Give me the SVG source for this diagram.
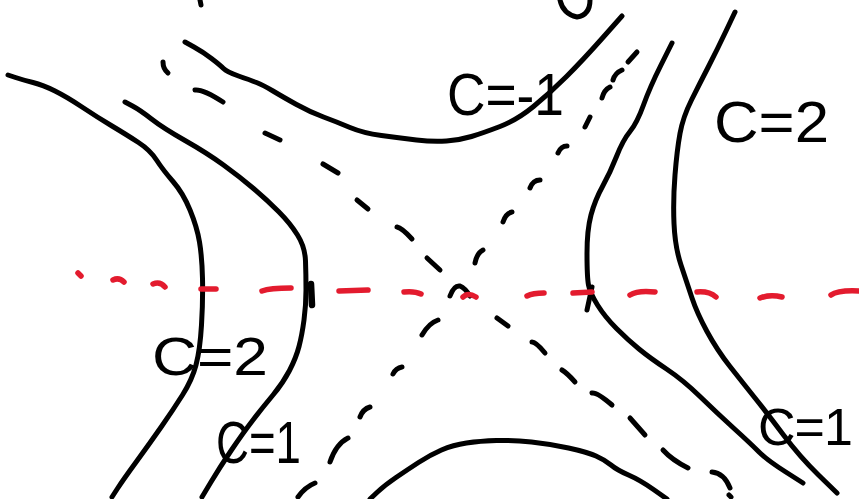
<svg xmlns="http://www.w3.org/2000/svg" width="859" height="499" viewBox="0 0 859 499">
<style>
.c{fill:none;stroke:#000;stroke-width:5;stroke-linecap:round;stroke-linejoin:round}
.d{fill:none;stroke:#000;stroke-width:5;stroke-linecap:round;stroke-linejoin:round}
.r{fill:none;stroke:#e31b2e;stroke-width:5.5;stroke-linecap:round;stroke-linejoin:round}
.t{font-family:"Liberation Sans","DejaVu Sans",sans-serif;fill:#000}
</style>
<rect width="859" height="499" fill="#fff"/>
<g id="curves">
<path class="c" d="M8,75 L15.5,77.5 Q23,80 33,82.5 Q43,85 55,91 Q67,97 82,107 Q97,117 112,126 Q127,135 138.5,142.5 Q150,150 156.5,160 Q163,170 173,181.5 Q183,193 190,210 Q197,227 199.5,242 Q202,257 202.5,278.5 Q203,300 201.5,325 Q200,350 196,365 Q192,380 182.5,395 Q173,410 161.5,426.5 Q150,443 136.5,461.5 Q123,480 117.5,488.5 L112,497"/>
<path class="c" d="M125,102 L132.5,106 Q140,110 151.5,119 Q163,128 185,140.5 Q207,153 223.5,165 Q240,177 253.5,188.5 Q267,200 278.5,211.5 Q290,223 297.5,235 Q305,247 305.5,261 Q306,275 306,290 Q306,305 304,320 Q302,335 299,346.5 Q296,358 289.5,370.5 Q283,383 273,395 Q263,407 253,420 Q243,433 231.5,450 Q220,467 211,482 L202,497"/>
<path class="c" d="M185,42 L194,47 Q203,52 211.5,58.5 Q220,65 223.5,68.5 Q227,72 238.5,76 Q250,80 256.5,82.5 Q263,85 273,91 Q283,97 296.5,104.5 Q310,112 323.5,117 Q337,122 350,127.5 Q363,133 381.5,135.5 Q400,138 416.5,140 Q433,142 446.5,141 Q460,140 471.5,136.5 Q483,133 500,126.5 Q517,120 533.5,106.5 Q550,93 566.5,76.5 Q583,60 602.5,38 L622,16"/>
<path class="c" d="M370,499 L377.5,492 Q385,485 396,477.5 Q407,470 418.5,462.5 Q430,455 441.5,450 Q453,445 466.5,443 Q480,441 496.5,440.5 Q513,440 531.5,442 Q550,444 568.5,448 Q587,452 596,456 Q605,460 611,465 Q617,470 628.5,475 Q640,480 653.5,489.5 L667,499"/>
<path class="c" d="M672,43 L661,65 Q650,87 643.5,105 Q637,123 630,131.5 Q623,140 616.5,156.5 Q610,173 602.5,186.5 Q595,200 591,215 Q587,230 587,253.5 Q587,277 588.5,285 Q590,293 597.5,305 Q605,317 616.5,328.5 Q628,340 639,349 Q650,358 666.5,369 Q683,380 700,396.5 Q717,413 733.5,428 Q750,443 758.5,451.5 Q767,460 785,471.5 L803,483"/>
<path class="c" d="M735,12 L726,31 Q717,50 708.5,66.5 Q700,83 691.5,100 Q683,117 680,133.5 Q677,150 675,175 Q673,200 674,223.5 Q675,247 681,265 Q687,283 692,298 Q697,313 707,331.5 Q717,350 730,366.5 Q743,383 755,398 Q767,413 783.5,435 Q800,457 818.5,475 L837,493"/>
<path class="c" d="M560,0 Q563,14 577,17 Q590,15 590,0"/>
<path class="c" d="M200,0 L201,5"/>
<path class="c" style="stroke-width:6.5" d="M311,284 L312,305"/>
<path class="c" d="M592,287 L587,310"/>
</g>
<g id="asymptotes">
<path class="d" d="M163,62 Q163,69 168,73"/>
<path class="d" d="M195,90 Q203,89 223,102"/>
<path class="d" d="M265,133 L280,140"/>
<path class="d" d="M323,164 L338,173"/>
<path class="d" d="M357,200 L368,209"/>
<path class="d" d="M397,227 Q402,228 412,239"/>
<path class="d" d="M427,258 L440,270"/>
<path class="d" d="M450,296 Q454,285 460,286 Q465,288 470,296"/>
<path class="d" d="M497,318 L508,326"/>
<path class="d" d="M532,342 Q536,342 545,353"/>
<path class="d" d="M562,370 Q567,373 575,382"/>
<path class="d" d="M592,393 Q597,392 612,405"/>
<path class="d" d="M630,418 L645,435"/>
<path class="d" d="M663,450 Q672,460 688,468"/>
<path class="d" d="M712,472 Q724,473 730,488"/>
<path class="d" d="M729,495 L731,497"/>
<path class="d" d="M298,497 Q305,487 315,483"/>
<path class="d" d="M330,462 Q336,444 348,438"/>
<path class="d" d="M360,417 Q363,409 370,407"/>
<path class="d" d="M393,374 Q396,368 402,367"/>
<path class="d" d="M422,335 Q429,323 438,320"/>
<path class="d" d="M475,263 Q477,253 483,250"/>
<path class="d" d="M503,222 Q506,213 512,212"/>
<path class="d" d="M530,188 Q533,180 540,180"/>
<path class="d" d="M558,153 Q561,146 567,146"/>
<path class="d" d="M585,127 L590,117"/>
<path class="d" d="M602,98 Q604,90 610,87"/>
<path class="d" d="M613,80 Q615,73 622,70"/>
<path class="d" d="M628,62 L637,52"/>
</g>
<g id="axis">
<path class="r" d="M78,273 L81,276"/>
<path class="r" d="M113,280 Q119,277 124,282"/>
<path class="r" d="M153,284 Q160,281 165,287"/>
<path class="r" d="M201,289 L216,289"/>
<path class="r" d="M262,291 Q270,288 291,288"/>
<path class="r" d="M339,291 L368,290"/>
<path class="r" d="M404,292 Q415,291 421,294"/>
<path class="r" d="M463,297 Q468,292 476,297"/>
<path class="r" d="M527,296 Q533,293 544,293"/>
<path class="r" d="M573,293 L592,292"/>
<path class="r" d="M630,295 Q638,290 655,292"/>
<path class="r" d="M697,292 Q709,291 716,297"/>
<path class="r" d="M760,298 Q770,294 782,297"/>
<path class="r" d="M831,295 Q838,290 859,291"/>
</g>
<g id="labels">
<text class="t" x="447" y="115" font-size="60" textLength="117" lengthAdjust="spacingAndGlyphs">C=-1</text>
<text class="t" x="714" y="142" font-size="58" textLength="115" lengthAdjust="spacingAndGlyphs">C=2</text>
<text class="t" x="152" y="375" font-size="54" textLength="116" lengthAdjust="spacingAndGlyphs">C=2</text>
<text class="t" x="216" y="463" font-size="60" textLength="85" lengthAdjust="spacingAndGlyphs">C=1</text>
<text class="t" x="758" y="445" font-size="52" letter-spacing="-1">C=1</text>
</g>
</svg>
